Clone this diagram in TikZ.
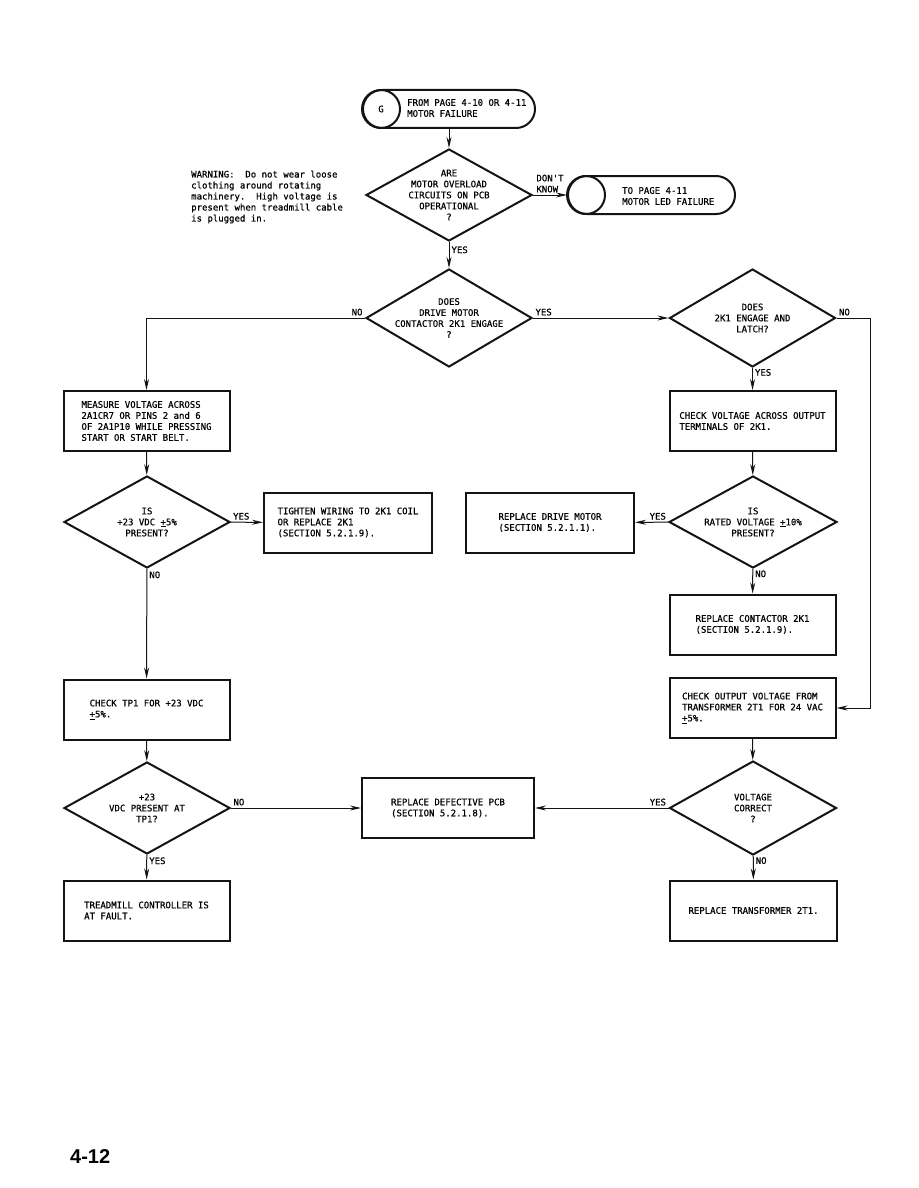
\documentclass[tikz,border=0pt]{standalone}
\usepackage{fontspec}
\setmainfont{Liberation Sans}
\newfontfamily\chartfont{DejaVu Sans Mono}[FakeBold=0.6]
\usepackage{tikz}
\usetikzlibrary{arrows.meta,positioning,shapes.geometric}
\definecolor{inkBlack}{HTML}{141414}

\begin{document}
\begin{tikzpicture}[x=1pt, y=-1pt, >={Stealth[length=11pt,width=5pt]},
    font=\chartfont\fontsize{9}{11}\selectfont,
    box/.style={draw=inkBlack, line width=2pt, minimum width=166pt, minimum height=60pt, align=left, inner sep=0pt},
    decision/.style={diamond, draw=inkBlack, line width=2pt, minimum width=166pt, minimum height=92pt, inner sep=0pt},
    qtext/.style={align=center, inner sep=0pt},
    termbox/.style={draw=inkBlack, line width=2pt, rounded corners=19pt, minimum height=38pt, inner sep=0pt},
    pagelink/.style={circle, draw=inkBlack, line width=2pt, minimum size=38pt, inner sep=0pt},
    flow/.style={->, draw=inkBlack, line width=1pt},
    lbl/.style={inner sep=2pt}]
    \useasboundingbox (0,0) rectangle (918,1188);

    \node[termbox, minimum width=172pt] (start) at (449,109) {};
    \node[pagelink] (gcirc) at ([xshift=19pt]start.west) {G};
    \node[anchor=west, align=left, inner sep=0pt] (starttxt) at (407,108) {FROM PAGE 4-10 OR 4-11\\MOTOR FAILURE};

    \node[anchor=west, align=left, inner sep=0pt] (warning) at (191,197) {WARNING:\ \ Do not wear loose\\clothing around rotating\\machinery.\ \ High voltage is\\present when treadmill cable\\is plugged in.};

    \node[decision] (overload) at (449,195) {};
    \node[qtext] at (overload) {ARE\\MOTOR OVERLOAD\\CIRCUITS ON PCB\\OPERATIONAL\\?};
    \node[termbox, minimum width=167pt] (ledfail) at (651.5,195) {};
    \node[pagelink] (ledcirc) at ([xshift=19pt]ledfail.west) {};
    \node[anchor=west, align=left, inner sep=0pt] (ledtxt) at (622,196) {TO PAGE 4-11\\MOTOR LED FAILURE};

    \node[decision, minimum height=98pt] (contactor) at (449,318) {};
    \node[qtext] at (contactor) {DOES\\DRIVE MOTOR\\CONTACTOR 2K1 ENGAGE\\?};
    \node[decision, minimum height=98pt] (latch) at (752.5,318) {};
    \node[qtext] at (latch) {DOES\\2K1 ENGAGE AND\\LATCH?};
    \coordinate (nobend) at (870,318);

    \node[box] (measure) at (146.5,421) {MEASURE VOLTAGE ACROSS\\2A1CR7 OR PINS 2 and 6\\OF 2A1P10 WHILE PRESSING\\START OR START BELT.};
    \node[box] (termcheck) at (752.5,421) {CHECK VOLTAGE ACROSS OUTPUT\\TERMINALS OF 2K1.};

    \node[decision] (vdcok) at (147,522) {};
    \node[qtext] at (vdcok) {IS\\+23 VDC \underline{+}5\%\\PRESENT?};
    \node[box, minimum width=168pt] (tighten) at (348,522.5) {TIGHTEN WIRING TO 2K1 COIL\\OR REPLACE 2K1\\(SECTION 5.2.1.9).};
    \node[box, minimum width=168pt] (drive) at (550,522.5) {REPLACE DRIVE MOTOR\\(SECTION 5.2.1.1).};
    \node[decision, minimum width=168pt] (rated) at (753,522) {};
    \node[qtext] at (rated) {IS\\RATED VOLTAGE \underline{+}10\%\\PRESENT?};

    \node[box] (contactrep) at (752.5,624.5) {REPLACE CONTACTOR 2K1\\(SECTION 5.2.1.9).};
    \node[box] (tpcheck) at (146.5,709.5) {CHECK TP1 FOR +23 VDC\\\underline{+}5\%.};
    \node[box] (outcheck) at (752.5,708) {CHECK OUTPUT VOLTAGE FROM\\TRANSFORMER 2T1 FOR 24 VAC\\\underline{+}5\%.};

    \node[decision] (tpok) at (147,808) {};
    \node[qtext] at (tpok) {+23\\VDC PRESENT AT\\TP1?};
    \node[box, minimum width=172pt] (pcb) at (448,808) {REPLACE DEFECTIVE PCB\\(SECTION 5.2.1.8).};
    \node[decision, minimum width=167pt, minimum height=94pt] (volt) at (753,808) {};
    \node[qtext] at (volt) {VOLTAGE\\CORRECT\\?};

    \node[box] (fault) at (146.5,910.5) {TREADMILL CONTROLLER IS\\AT FAULT.};
    \node[box, minimum width=167pt] (transrep) at (753.5,910.5) {REPLACE TRANSFORMER 2T1.};

    \node[anchor=west, inner sep=0pt, font=\normalfont\bfseries\fontsize{20}{24}\selectfont] (pagenum) at (70,1157) {4-12};

    \draw[flow] (start) -- (overload);
    \draw[flow] (overload.east) -- node[lbl, above, align=left]{DON'T\\KNOW} (ledfail.west);
    \draw[flow] (overload) -- node[lbl, anchor=west, pos=0.3]{YES} (contactor);
    \draw[flow] (contactor.west) -- node[lbl, anchor=south east, pos=0]{NO} (measure.north |- contactor.west) -- (measure);
    \draw[flow] (contactor) -- node[lbl, anchor=south west, pos=0]{YES} (latch);
    \draw[flow] (latch.east) -- node[lbl, anchor=south west, pos=0]{NO} (nobend) |- (outcheck);
    \draw[flow] (latch) -- node[lbl, anchor=west, pos=0.2]{YES} (termcheck);
    \draw[flow] (termcheck) -- (rated);
    \draw[flow] (rated) -- node[lbl, anchor=south east, pos=0]{YES} (drive);
    \draw[flow] (rated) -- node[lbl, anchor=west, pos=0.2]{NO} (contactrep);
    \draw[flow] (outcheck) -- (volt);
    \draw[flow] (volt) -- node[lbl, anchor=south east, pos=0]{YES} (pcb);
    \draw[flow] (volt) -- node[lbl, anchor=west, pos=0.2]{NO} (transrep);
    \draw[flow] (measure) -- (vdcok);
    \draw[flow] (vdcok) -- node[lbl, anchor=south west, pos=0]{YES} (tighten);
    \draw[flow] (vdcok) -- node[lbl, anchor=north west, pos=0]{NO} (tpcheck);
    \draw[flow] (tpcheck) -- (tpok);
    \draw[flow] (tpok) -- node[lbl, anchor=south west, pos=0]{NO} (pcb);
    \draw[flow] (tpok) -- node[lbl, anchor=north west, pos=0]{YES} (fault);
\end{tikzpicture}
\end{document}
